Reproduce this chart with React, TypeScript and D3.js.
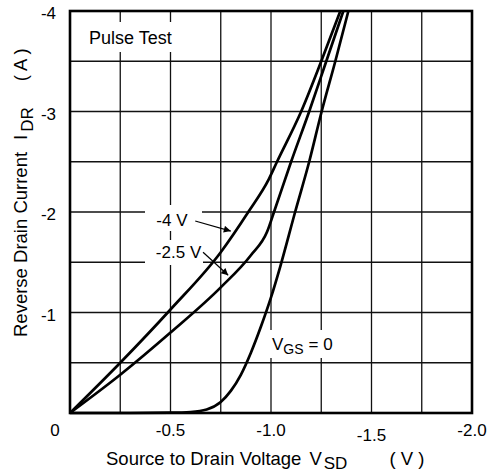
import * as d3 from "d3";

// axis ticks
const vsdTicks = [0, -0.5, -1.0, -1.5, -2.0];
const idrTicks = [-1, -2, -3, -4];
const vsdGrid = [-0.25, -0.5, -0.75, -1.0, -1.25, -1.5, -1.75];
const idrGrid = [-0.5, -1.0, -1.5, -2.0, -2.5, -3.0, -3.5];

// V_GS = -4 V
const vgs4Vsd = [0, -0.25, -0.5, -0.75, -0.887, -0.99, -1.03, -1.15, -1.25, -1.345];
const vgs4Idr = [0, -0.5, -1.03, -1.6, -2.0, -2.33, -2.5, -3.0, -3.5, -4.0];

// V_GS = -2.5 V
const vgs25Vsd = [0, -0.25, -0.5, -0.75, -0.9, -0.98, -1.02, -1.1, -1.19, -1.275, -1.36];
const vgs25Idr = [0, -0.38, -0.8, -1.25, -1.57, -1.8, -2.03, -2.5, -3.0, -3.5, -4.0];

// V_GS = 0
const vgs0Vsd = [0, -0.3, -0.5, -0.6, -0.68, -0.75, -0.8, -0.85, -0.9, -0.95, -1.0, -1.045, -1.12, -1.19, -1.252, -1.32, -1.385];
const vgs0Idr = [0, 0, -0.003, -0.01, -0.035, -0.11, -0.22, -0.38, -0.6, -0.86, -1.15, -1.45, -2.0, -2.5, -3.0, -3.5, -4.0];

const W = 490;
const H = 472;
const margin = { top: 11, right: 18, bottom: 59, left: 70 };
const font = "'Liberation Sans', Arial, sans-serif";

export default function App() {
  const x = d3.scaleLinear().domain([0, -2]).range([margin.left, W - margin.right]);
  const y = d3.scaleLinear().domain([0, -4]).range([H - margin.bottom, margin.top]);

  const line = d3
    .line<[number, number]>()
    .x((d) => x(d[0]))
    .y((d) => y(d[1]))
    .curve(d3.curveMonotoneX);

  const zip = (a: number[], b: number[]) => a.map((v, i) => [v, b[i]] as [number, number]);
  const curves = [
    zip(vgs4Vsd, vgs4Idr),
    zip(vgs25Vsd, vgs25Idr),
    zip(vgs0Vsd, vgs0Idr),
  ];

  const x0 = x(0), x1 = x(-2), y0 = y(0), y1 = y(-4);

  return (
    <svg width={W} height={H} style={{ position: "absolute", left: 0, top: 0, background: "#fff" }} fontFamily={font}>
      <defs>
        <marker id="arr" viewBox="0 0 10 10" refX="10" refY="5" markerWidth="9" markerHeight="7" markerUnits="userSpaceOnUse" orient="auto">
          <path d="M0,0 L10,5 L0,10 z" fill="#000" />
        </marker>
      </defs>

      {/* grid */}
      {vsdGrid.map((v) => (
        <line key={"gx" + v} x1={x(v)} x2={x(v)} y1={y1} y2={y0} stroke="#111" strokeWidth={1.3} />
      ))}
      {idrGrid.map((v) => (
        <line key={"gy" + v} x1={x0} x2={x1} y1={y(v)} y2={y(v)} stroke="#111" strokeWidth={1.3} />
      ))}

      {/* label knockouts */}
      <rect x={85} y={22} width={97} height={30} fill="#fff" />
      <rect x={145} y={205} width={57} height={26} fill="#fff" />
      <rect x={145} y={240} width={58} height={25} fill="#fff" />
      <rect x={266} y={330} width={68} height={28} fill="#fff" />

      {/* curves */}
      {curves.map((c, i) => (
        <path key={i} d={line(c) || ""} fill="none" stroke="#000" strokeWidth={2.7} strokeLinejoin="round" />
      ))}

      {/* frame */}
      <rect x={x0} y={y1} width={x1 - x0} height={y0 - y1} fill="none" stroke="#000" strokeWidth={2.6} />

      {/* tick labels */}
      {vsdTicks.map((v) => (
        <text key={"tx" + v} x={x(v) + (v === 0 ? -15 : 0)} y={y0 + 23 + (v === -1.5 ? 5 : 0)} fontSize={17} textAnchor="middle">
          {v === 0 ? "0" : v.toFixed(1)}
        </text>
      ))}
      {idrTicks.map((v) => (
        <text key={"ty" + v} x={x0 - 14} y={y(v) + 8} fontSize={17} textAnchor="end">
          {String(v)}
        </text>
      ))}

      {/* annotations */}
      <text x={89} y={43.5} fontSize={18}>Pulse Test</text>

      <text x={x(-0.507)} y={y(-1.92) + 6} fontSize={17} textAnchor="middle">-4 V</text>
      <line x1={x(-0.623)} y1={y(-1.91)} x2={x(-0.8)} y2={y(-1.81)} stroke="#000" strokeWidth={1.2} markerEnd="url(#arr)" />

      <text x={x(-0.54)} y={y(-1.6) + 6} fontSize={17} textAnchor="middle">-2.5 V</text>
      <line x1={x(-0.662)} y1={y(-1.6)} x2={x(-0.787)} y2={y(-1.37)} stroke="#000" strokeWidth={1.2} markerEnd="url(#arr)" />

      <text x={272} y={350} fontSize={17}>
        V<tspan fontSize={14} dy={4}>GS</tspan>
        <tspan dy={-4} dx={5}>= 0</tspan>
      </text>

      {/* axis titles */}
      <text x={106} y={465} fontSize={18.5}>
        Source to Drain Voltage
        <tspan dx={8}>V</tspan>
        <tspan fontSize={17} dy={4} dx={2}>SD</tspan>
        <tspan dy={-4} dx={42}>( V )</tspan>
      </text>
      <text transform="translate(27,337) rotate(-90)" fontSize={18.5}>
        Reverse Drain Current
        <tspan dx={12}>I</tspan>
        <tspan fontSize={17} dy={6} dx={3}>DR</tspan>
        <tspan dy={-6} dx={26}>( A )</tspan>
      </text>
    </svg>
  );
}
